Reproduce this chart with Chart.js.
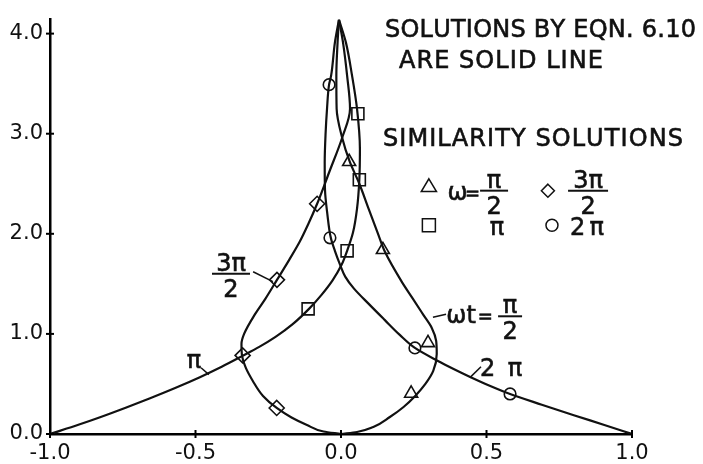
<!DOCTYPE html>
<html>
<head>
<meta charset="utf-8">
<script src="https://cdn.jsdelivr.net/npm/chart.js@4.4.0/dist/chart.umd.min.js"></script>
<style>
  html, body { margin: 0; padding: 0; background: #fff; }
</style>
</head>
<body>
<canvas id="myChart" width="703" height="464"></canvas>
<script>
// profiles from eqn 6.10, [x, y] pairs from the wall (y = 0) up to the tip
const curveHalfPi = [
  [0.000, 0.00], [0.055, 0.02], [0.111, 0.07], [0.168, 0.17], [0.215, 0.27],
  [0.255, 0.38], [0.290, 0.50], [0.317, 0.63], [0.329, 0.80], [0.327, 0.93],
  [0.312, 1.06], [0.283, 1.19], [0.245, 1.36], [0.209, 1.52], [0.151, 1.82],
  [0.126, 2.01], [0.095, 2.25], [0.063, 2.50], [0.030, 2.72], [0.004, 2.96],
  [-0.015, 3.25], [-0.016, 3.58], [-0.012, 3.90], [-0.007, 4.14]
];
const curvePi = [
  [-1.000, 0.00], [-0.900, 0.095], [-0.828, 0.168], [-0.740, 0.263], [-0.656, 0.358],
  [-0.570, 0.46], [-0.485, 0.568], [-0.410, 0.672], [-0.340, 0.778], [-0.281, 0.87],
  [-0.225, 0.97], [-0.165, 1.10], [-0.110, 1.25], [-0.067, 1.39], [-0.029, 1.535],
  [0.002, 1.69], [0.021, 1.83], [0.041, 2.01], [0.055, 2.25], [0.063, 2.54],
  [0.065, 2.85], [0.055, 3.25], [0.038, 3.58], [0.017, 3.91], [-0.007, 4.14]
];
const curveThreeHalfPi = [
  [0.000, 0.00], [-0.060, 0.025], [-0.117, 0.09], [-0.170, 0.165], [-0.221, 0.26],
  [-0.268, 0.38], [-0.303, 0.53], [-0.327, 0.66], [-0.340, 0.78], [-0.342, 0.90],
  [-0.333, 1.00], [-0.296, 1.195], [-0.260, 1.35], [-0.220, 1.54], [-0.178, 1.74],
  [-0.142, 1.92], [-0.112, 2.10], [-0.082, 2.30], [-0.040, 2.62], [0.004, 2.96],
  [0.031, 3.25], [0.021, 3.58], [0.007, 3.91], [-0.007, 4.14]
];
const curveTwoPi = [
  [1.000, 0.00], [0.905, 0.09], [0.800, 0.188], [0.690, 0.293], [0.581, 0.40],
  [0.513, 0.48], [0.442, 0.573], [0.387, 0.65], [0.333, 0.73], [0.254, 0.86],
  [0.202, 0.99], [0.150, 1.14], [0.097, 1.295], [0.044, 1.455], [0.015, 1.57],
  [-0.003, 1.69], [-0.021, 1.83], [-0.035, 1.96], [-0.047, 2.20], [-0.055, 2.44],
  [-0.056, 2.71], [-0.053, 3.00], [-0.048, 3.25], [-0.041, 3.49], [-0.034, 3.58],
  [-0.021, 3.91], [-0.007, 4.14]
];

// similarity solutions
const simHalfPi = [[0.028, 2.72], [0.144, 1.84], [0.299, 0.91], [0.241, 0.405]];
const simPi = [[0.058, 3.20], [0.063, 2.54], [0.021, 1.83], [-0.113, 1.25]];
const simThreeHalfPi = [[-0.082, 2.30], [-0.220, 1.54], [-0.338, 0.785], [-0.221, 0.26]];
const simTwoPi = [[-0.041, 3.49], [-0.038, 1.96], [0.254, 0.86], [0.581, 0.40]];

const xTicks = [-1.0, -0.5, 0.0, 0.5, 1.0];
const yTicks = [0, 1, 2, 3, 4];

const FONT = '"DejaVu Sans", sans-serif';
const INK = '#111';

const toPoints = pairs => pairs.map(([x, y]) => ({ x, y }));

// each profile is x as a function of y, so the spline runs along y
const lineSet = pairs => ({
  data: toPoints(pairs),
  showLine: true,
  borderColor: INK,
  borderWidth: 2.2,
  pointRadius: 0,
  cubicInterpolationMode: 'monotone',
  fill: false
});

const markerSet = (pairs, style, radius) => ({
  data: toPoints(pairs),
  showLine: false,
  pointStyle: style,
  pointRadius: radius,
  pointBorderColor: INK,
  pointBackgroundColor: 'rgba(0,0,0,0)',
  pointBorderWidth: 1.6
});

// lettering is a little heavier than the plain face, so fill and stroke it
const ink = (ctx, str, x, y) => {
  ctx.fillText(str, x, y);
  ctx.save();
  ctx.lineWidth = 0.6;
  ctx.strokeText(str, x, y);
  ctx.restore();
};

// draws a string spread across a given pixel width
const fitText = (ctx, str, x, y, width) => {
  const chars = [...str];
  const natural = chars.reduce((s, c) => s + ctx.measureText(c).width, 0);
  const gap = chars.length > 1 ? (width - natural) / (chars.length - 1) : 0;
  let cx = x;
  ctx.textAlign = 'left';
  chars.forEach(c => {
    ink(ctx, c, cx, y);
    cx += ctx.measureText(c).width + gap;
  });
};

const fraction = (ctx, num, den, cx, barY, half) => {
  ctx.textAlign = 'center';
  ink(ctx, num, cx, barY - 3);
  ink(ctx, den, cx, barY + 23);
  ctx.beginPath();
  ctx.moveTo(cx - half, barY);
  ctx.lineTo(cx + half, barY);
  ctx.stroke();
};

const symbol = (ctx, style, x, y, r) => {
  ctx.beginPath();
  if (style === 'triangle') {
    ctx.moveTo(x, y - r);
    ctx.lineTo(x + r * 0.95, y + r * 0.6);
    ctx.lineTo(x - r * 0.95, y + r * 0.6);
    ctx.closePath();
  } else if (style === 'rect') {
    ctx.rect(x - r, y - r, 2 * r, 2 * r);
  } else if (style === 'rectRot') {
    ctx.moveTo(x, y - r);
    ctx.lineTo(x + r, y);
    ctx.lineTo(x, y + r);
    ctx.lineTo(x - r, y);
    ctx.closePath();
  } else {
    ctx.arc(x, y, r, 0, Math.PI * 2);
  }
  ctx.stroke();
};

// ticks that cross the axis lines
const crossTicks = {
  id: 'crossTicks',
  afterDraw(chart) {
    const { ctx, chartArea, scales } = chart;
    ctx.save();
    ctx.strokeStyle = '#000';
    ctx.lineWidth = 2;
    scales.y.ticks.forEach(t => {
      const y = scales.y.getPixelForValue(t.value);
      ctx.beginPath();
      ctx.moveTo(chartArea.left - 4, y);
      ctx.lineTo(chartArea.left + 4, y);
      ctx.stroke();
    });
    scales.x.ticks.forEach(t => {
      const x = scales.x.getPixelForValue(t.value);
      ctx.beginPath();
      ctx.moveTo(x, chartArea.bottom - 4);
      ctx.lineTo(x, chartArea.bottom + 4);
      ctx.stroke();
    });
    ctx.restore();
  }
};

// caption, key and curve labels
const notes = {
  id: 'notes',
  afterDraw(chart) {
    const { ctx, scales } = chart;
    const X = v => scales.x.getPixelForValue(v);
    const Y = v => scales.y.getPixelForValue(v);
    ctx.save();
    ctx.fillStyle = INK;
    ctx.strokeStyle = INK;
    ctx.lineWidth = 2;
    ctx.textBaseline = 'alphabetic';
    ctx.font = '24px ' + FONT;

    fitText(ctx, 'SOLUTIONS BY EQN. 6.10', X(0.151), Y(3.962), 311);
    fitText(ctx, 'ARE SOLID LINE', X(0.199), Y(3.656), 204);
    fitText(ctx, 'SIMILARITY SOLUTIONS', X(0.144), Y(2.875), 300);

    ctx.lineWidth = 1.5;
    symbol(ctx, 'triangle', X(0.302), Y(2.47), 8);
    symbol(ctx, 'rectRot', X(0.711), Y(2.431), 6.5);
    symbol(ctx, 'rect', X(0.302), Y(2.085), 6.5);
    symbol(ctx, 'circle', X(0.725), Y(2.085), 6);

    ctx.lineWidth = 2;
    ctx.textAlign = 'left';
    ink(ctx, 'ω', X(0.366), Y(2.342));
    ctx.font = '18px ' + FONT;
    ink(ctx, '=', X(0.426), Y(2.35));
    ctx.font = '24px ' + FONT;
    ctx.lineWidth = 2;
    fraction(ctx, 'π', '2', X(0.526), Y(2.431), 14);
    fraction(ctx, '3π', '2', X(0.849), Y(2.431), 20);
    ctx.textAlign = 'center';
    ink(ctx, 'π', X(0.536), Y(1.986));
    fitText(ctx, '2π', X(0.787), Y(1.986), 34);

    // curve labels with leaders
    const leader = (x1, y1, x2, y2) => {
      ctx.lineWidth = 1.5;
      ctx.beginPath();
      ctx.moveTo(X(x1), Y(y1));
      ctx.lineTo(X(x2), Y(y2));
      ctx.stroke();
      ctx.lineWidth = 2;
    };
    fraction(ctx, '3π', '2', X(-0.378), Y(1.601), 19);
    leader(-0.302, 1.621, -0.234, 1.522);

    ctx.textAlign = 'center';
    ink(ctx, 'π', X(-0.505), Y(0.662));
    leader(-0.481, 0.662, -0.454, 0.593);

    ctx.textAlign = 'left';
    ink(ctx, 'ωt', X(0.362), Y(1.107));
    ctx.font = '18px ' + FONT;
    ink(ctx, '=', X(0.47), Y(1.115));
    ctx.font = '24px ' + FONT;
    fraction(ctx, 'π', '2', X(0.581), Y(1.176), 12);
    leader(0.316, 1.166, 0.361, 1.196);

    fitText(ctx, '2π', X(0.478), Y(0.583), 42);
    leader(0.443, 0.563, 0.481, 0.672);

    ctx.restore();
  }
};

const tickFont = { family: FONT, size: 21 };

new Chart(document.getElementById('myChart').getContext('2d'), {
  type: 'scatter',
  data: {
    datasets: [
      lineSet(curveHalfPi),
      lineSet(curvePi),
      lineSet(curveThreeHalfPi),
      lineSet(curveTwoPi),
      markerSet(simHalfPi, 'triangle', 7.5),
      markerSet(simPi, 'rect', 8.5),
      markerSet(simThreeHalfPi, 'rectRot', 7.5),
      markerSet(simTwoPi, 'circle', 5.8)
    ]
  },
  options: {
    responsive: false,
    animation: false,
    indexAxis: 'y',
    layout: { padding: { top: 15, right: 71, left: 0, bottom: 0 } },
    plugins: { legend: { display: false }, tooltip: { enabled: false } },
    scales: {
      x: {
        type: 'linear',
        position: 'bottom',
        min: xTicks[0],
        max: xTicks[xTicks.length - 1],
        afterBuildTicks: s => { s.ticks = xTicks.map(value => ({ value })); },
        afterFit: s => { s.height = 30; },
        ticks: {
          callback: v => v.toFixed(1),
          font: tickFont,
          color: INK,
          padding: 7,
          maxRotation: 0,
          autoSkip: false
        },
        grid: { display: false, drawTicks: false },
        border: { display: true, color: '#000', width: 2.5 }
      },
      y: {
        type: 'linear',
        position: 'left',
        min: 0,
        max: 4.14,
        afterBuildTicks: s => { s.ticks = yTicks.map(value => ({ value })); },
        afterFit: s => { s.width = 50; },
        ticks: {
          callback: v => v.toFixed(1),
          font: tickFont,
          color: INK,
          padding: 7,
          autoSkip: false
        },
        grid: { display: false, drawTicks: false },
        border: { display: true, color: '#000', width: 2.5 }
      }
    }
  },
  plugins: [crossTicks, notes]
});
</script>
</body>
</html>
